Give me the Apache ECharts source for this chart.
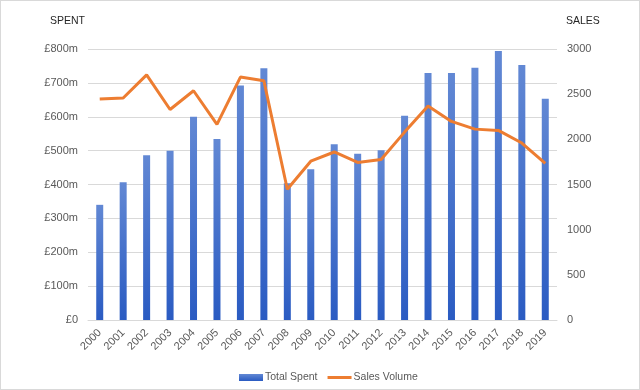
<!DOCTYPE html>
<html><head><meta charset="utf-8">
<script src="https://cdn.jsdelivr.net/npm/echarts@6/dist/echarts.min.js"></script>
<style>html,body{margin:0;padding:0;background:#fff}#c{width:640px;height:390px;box-sizing:border-box;border:1px solid #d9d9d9}</style>
</head><body><div id="c"></div>
<script>
const years = ['2000','2001','2002','2003','2004','2005','2006','2007','2008','2009','2010','2011','2012','2013','2014','2015','2016','2017','2018','2019'];
const totalSpent = [340,407,486,500,600,534,692,743,404,445,519,491,501,603,729,729,745,794,753,653];
const salesVolume = [2447,2458,2714,2330,2538,2165,2689,2648,1447,1758,1860,1744,1777,2080,2370,2198,2113,2099,1959,1733];
const spentTicks = {min:0,max:800,interval:100};
const salesTicks = {min:0,max:3000,interval:500};

const font = 'Liberation Sans';
const grey = '#595959';
const chart = echarts.init(document.getElementById('c'));
chart.setOption({
  animation:false,
  textStyle:{fontFamily:font},
  graphic:[
    {type:'text',left:49,top:15,style:{text:'SPENT',font:'10.5px "Liberation Sans"',fill:'#262626'}},
    {type:'text',left:565,top:15,style:{text:'SALES',font:'10.5px "Liberation Sans"',fill:'#262626'}}
  ],
  grid:{left:87,right:82,top:48,bottom:69,containLabel:false},
  legend:{top:366,left:233,itemGap:10,itemWidth:24,itemHeight:7,textStyle:{color:grey,fontSize:10.5,fontFamily:font,padding:[0,0,0,-3]},
    data:[{name:'Total Spent',icon:'rect'},{name:'Sales Volume',icon:'path://M0,0H24V3H0Z',itemStyle:{color:'#ed7d31'}}]},
  xAxis:{type:'category',data:years,
    axisLine:{lineStyle:{color:'#d9d9d9'}},axisTick:{show:false},
    axisLabel:{rotate:45,color:grey,fontSize:11,margin:11,interval:0}},
  yAxis:[
    {type:'value',min:spentTicks.min,max:spentTicks.max,interval:spentTicks.interval,
     axisLine:{show:false},axisTick:{show:false},
     splitLine:{lineStyle:{color:'#d9d9d9'}},
     axisLabel:{color:grey,fontSize:11,margin:10,formatter:v=>v===0?'£0':'£'+v+'m'}},
    {type:'value',min:salesTicks.min,max:salesTicks.max,interval:salesTicks.interval,position:'right',
     axisLine:{show:false},axisTick:{show:false},splitLine:{show:false},
     axisLabel:{color:grey,fontSize:11,margin:10,formatter:v=>String(v)}}
  ],
  series:[
    {name:'Total Spent',type:'bar',data:totalSpent,barWidth:7,yAxisIndex:0,
     itemStyle:{color:new echarts.graphic.LinearGradient(0,0,0,1,[{offset:0,color:'#6288d4'},{offset:1,color:'#2a5bc2'}])}},
    {name:'Sales Volume',type:'line',data:salesVolume,yAxisIndex:1,symbol:'none',
     lineStyle:{color:'#ed7d31',width:3},itemStyle:{color:'#ed7d31'}}
  ]
});
</script></body></html>
